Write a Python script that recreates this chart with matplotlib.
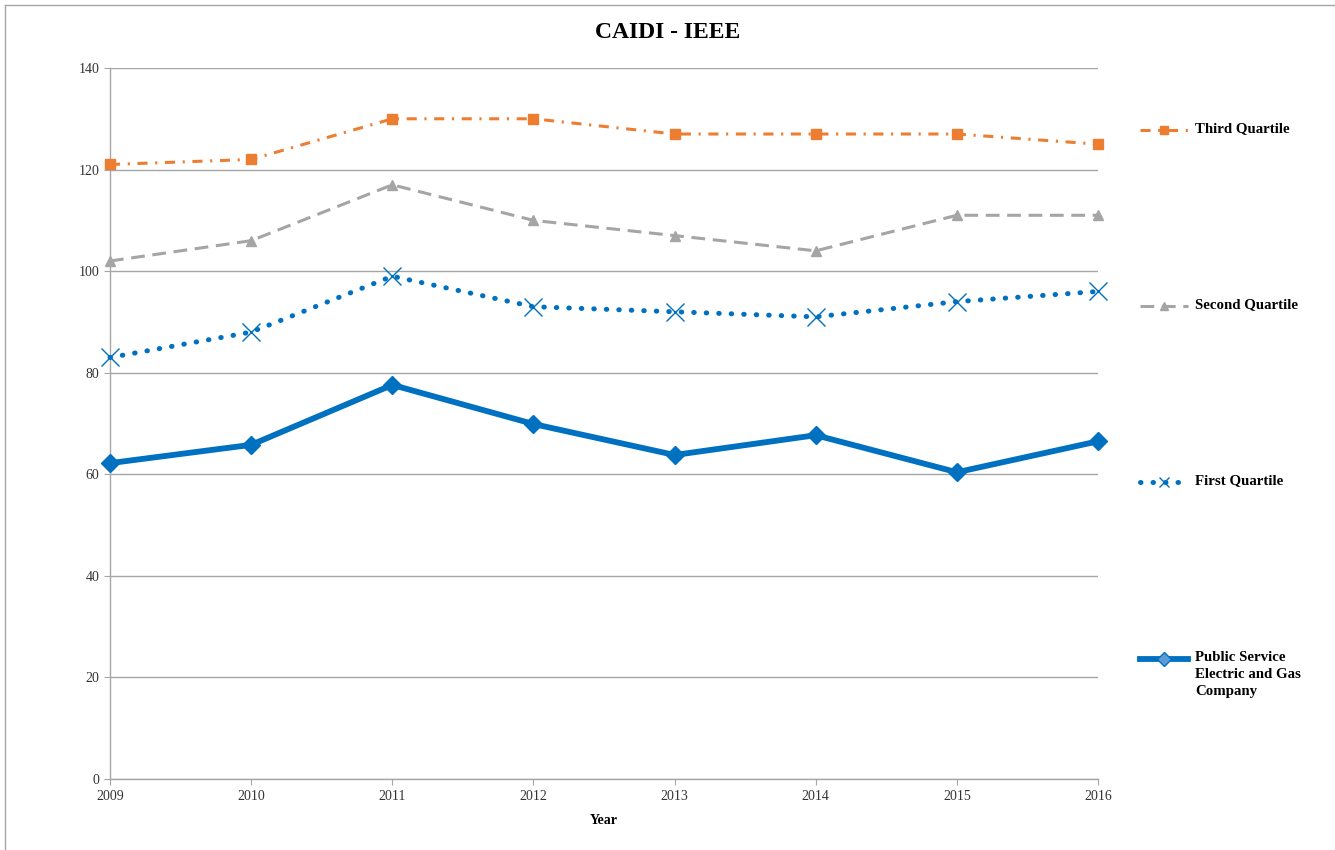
import matplotlib.pyplot as plt
from matplotlib.lines import Line2D

years = [2009, 2010, 2011, 2012, 2013, 2014, 2015, 2016]
third_q = [121, 122, 130, 130, 127, 127, 127, 125]
second_q = [102, 106, 117, 110, 107, 104, 111, 111]
first_q = [83, 88, 99, 93, 92, 91, 94, 96]
pseg = [62.2, 65.8, 77.6, 69.9, 63.8, 67.7, 60.4, 66.5]

labels = ['Third Quartile', 'Second Quartile', 'First Quartile',
          'Public Service\nElectric and Gas\nCompany']

orange = '#ED7D31'
gray = '#A5A5A5'
blue = '#0070C0'

plt.rcParams['font.family'] = ['Liberation Serif', 'DejaVu Serif']

fig = plt.figure(figsize=(13.35, 8.5), dpi=100)
ax = fig.add_axes([0.0824, 0.0835, 0.7401, 0.8365])

styles = [
    dict(color=orange, linestyle=(0, (3.3, 2.5, 0.7, 2.5)), linewidth=2.2,
         marker='s', markersize=7.5),
    dict(color=gray, linestyle=(0, (4.5, 2.5)), linewidth=2.2,
         marker='^', markersize=7),
    dict(color=blue, linestyle=(0, (0.1, 2.4)), linewidth=3.6,
         dash_capstyle='round', marker='x', markersize=13, markeredgewidth=1.0),
    dict(color=blue, linestyle='-', linewidth=4.2,
         marker='D', markersize=9),
]
series = [third_q, second_q, first_q, pseg]

for vals, st in zip(series, styles):
    ax.plot(years, vals, clip_on=False, zorder=3, **st)

ax.set_xlim(years[0], years[-1])
ax.set_ylim(0, 140)
ax.set_yticks(range(0, 141, 20))
ax.set_xticks(years)
ax.grid(axis='y', color='#A6A6A6', linewidth=1)
ax.set_axisbelow(True)
for s in ['top', 'right']:
    ax.spines[s].set_visible(False)
for s in ['left', 'bottom']:
    ax.spines[s].set_color('#A6A6A6')
    ax.spines[s].set_linewidth(1)
ax.tick_params(axis='both', colors='#A6A6A6', labelcolor='#333333',
               labelsize=10, length=4, direction='out')
ax.tick_params(axis='x', pad=4)
ax.set_xlabel('Year', fontsize=10, fontweight='bold', labelpad=8)
fig.text(0.5, 1 - 32 / 850, 'CAIDI - IEEE', fontsize=17, fontweight='bold',
         ha='center', va='center')

# legend entries on the right
leg_y = [130, 306, 482, 659]
W, H = 1335, 850
for y, lab, st in zip(leg_y, labels, styles):
    yy = 1 - y / H
    fig.add_artist(Line2D([1140 / W, 1188 / W], [yy, yy], color=st['color'],
                          linestyle=st['linestyle'], linewidth=st['linewidth'],
                          dash_capstyle=st.get('dash_capstyle', 'butt'),
                          transform=fig.transFigure))
    ms = st['markersize'] * (0.75 if st['marker'] != 'x' else 0.6)
    fig.add_artist(Line2D([1164 / W], [yy], color=st['color'], linestyle='none',
                          marker=st['marker'], markersize=ms,
                          markerfacecolor=st['color'] if st['marker'] != 'D' else '#5B9BD5',
                          transform=fig.transFigure))
    fig.text(1195 / W, yy + 0.0095, lab, fontsize=10.7, fontweight='bold',
             va='top', ha='left', linespacing=1.4)

# chart border (top and left)
fig.add_artist(Line2D([5 / W, 5 / W], [0, 1 - 5 / H], color='#A6A6A6',
                      linewidth=1, transform=fig.transFigure))
fig.add_artist(Line2D([5 / W, 1], [1 - 5 / H, 1 - 5 / H], color='#A6A6A6',
                      linewidth=1, transform=fig.transFigure))

fig.savefig('out.png', dpi=100)
